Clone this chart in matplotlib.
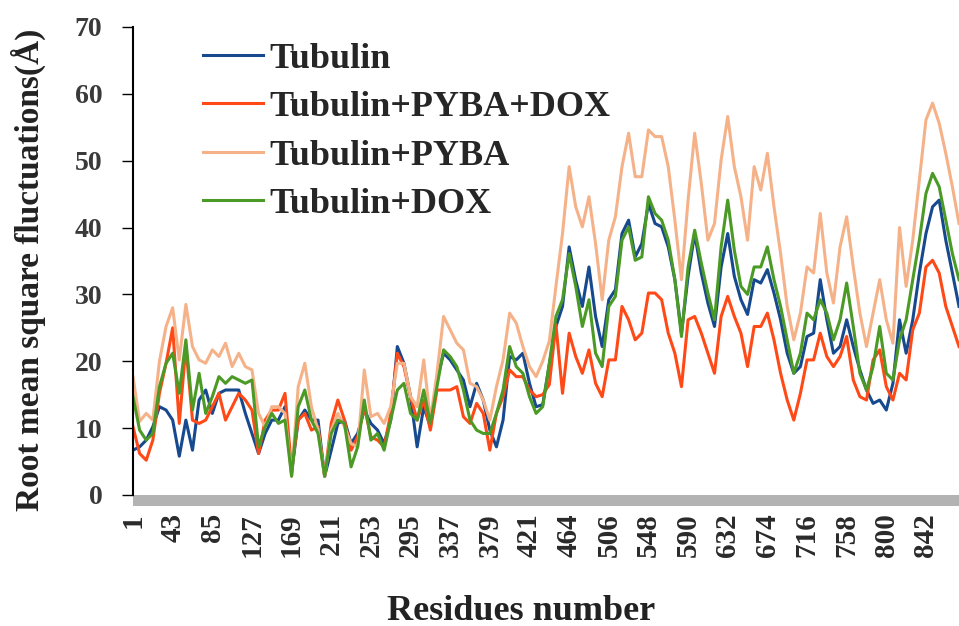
import numpy as np
import matplotlib
matplotlib.use("Agg")
import matplotlib.pyplot as plt
from matplotlib.patches import Rectangle

plt.rcParams['font.family'] = ['Liberation Serif', 'DejaVu Serif']
plt.rcParams['font.weight'] = 'bold'

# RMSF per residue, sampled every 7th residue along the chain
tubulin = [6.7, 7.2, 8.2, 10.2, 13.2, 12.7, 11.2, 5.8, 11.2, 6.7, 14.2, 15.7, 12.2, 15.2, 15.7, 15.7,
           15.7, 12.2, 9.2, 6.2, 9.2, 11.2, 11.2, 13.2, 3.3, 11.2, 12.7, 11.2, 11.2, 2.8, 6.7, 10.7,
           11.2, 7.7, 9.2, 12.7, 10.7, 9.7, 7.7, 11.2, 22.2, 19.7, 14.7, 7.2, 13.2, 10.2, 17.2, 21.2,
           20.2, 18.7, 17.2, 13.2, 16.7, 14.2, 9.7, 7.2, 11.2, 20.7, 20.2, 21.2, 16.7, 13.2, 13.5, 19.5,
           25.2, 28.2, 37.1, 32.1, 28.2, 34.1, 26.7, 22.2, 29.2, 30.7, 39.1, 41.1, 35.6, 37.6, 43.6,
           40.6, 40.1, 37.1, 32.2, 24.2, 32.7, 39.1, 33.2, 28.7, 25.2, 34.1, 39.1, 32.7, 29.2, 27.0,
           32.2, 31.7, 33.7, 30.2, 26.2, 21.2, 18.2, 19.2, 23.7, 24.2, 32.2, 26.2, 21.2, 22.2, 26.2,
           22.2, 18.7, 15.7, 13.7, 14.2, 12.7, 16.7, 26.2, 21.2, 26.2, 33.2, 39.1, 43.1, 44.1, 38.1,
           33.2, 28.2]
tub_pyba_dox = [10.2, 6.2, 5.2, 8.2, 15.2, 19.7, 25.0, 10.7, 22.2, 11.2, 10.7, 11.2, 13.2, 15.2, 11.2, 13.2,
                15.2, 14.2, 12.7, 6.2, 11.2, 12.7, 12.7, 15.2, 3.8, 11.2, 12.2, 9.7, 10.2, 2.8, 10.7, 14.2,
                11.2, 6.7, 8.7, 13.2, 8.7, 8.2, 7.2, 12.2, 21.2, 19.2, 14.7, 11.2, 14.2, 9.7, 15.7, 15.7,
                15.7, 16.2, 11.7, 10.7, 13.7, 12.2, 6.7, 12.2, 14.7, 18.7, 17.7, 17.7, 15.7, 14.7, 15.0, 16.5,
                25.5, 15.2, 24.2, 20.7, 18.2, 21.7, 16.7, 14.7, 20.2, 20.2, 28.2, 26.2, 23.2, 24.2, 30.2,
                30.2, 29.2, 24.2, 21.2, 16.2, 26.2, 26.7, 24.2, 21.2, 18.2, 26.7, 29.7, 26.7, 24.2, 19.2,
                25.2, 25.2, 27.2, 23.2, 18.2, 14.2, 11.2, 15.2, 20.2, 20.2, 24.2, 20.7, 19.2, 20.7, 23.7,
                17.2, 14.7, 14.2, 20.2, 21.7, 16.2, 14.2, 18.2, 17.2, 24.7, 27.2, 34.1, 35.1, 33.2, 28.2,
                25.2, 22.2]
tub_pyba = [17.7, 11.0, 12.2, 11.2, 20.0, 25.2, 28.0, 20.2, 28.5, 22.2, 20.2, 19.7, 21.7, 20.7, 22.7, 19.2,
            21.2, 19.2, 18.7, 12.2, 10.2, 13.2, 13.2, 12.2, 2.8, 16.2, 19.7, 13.2, 9.7, 2.8, 9.7, 12.2,
            10.2, 7.7, 7.2, 18.7, 11.7, 12.2, 10.7, 13.2, 19.7, 19.7, 14.7, 13.2, 20.2, 11.2, 18.2, 26.7,
            24.7, 22.7, 21.7, 16.7, 16.2, 14.2, 11.2, 16.2, 20.2, 27.2, 25.7, 22.2, 19.2, 17.7, 20.0, 23.0,
            31.2, 39.1, 49.1, 43.1, 40.1, 44.6, 37.6, 29.2, 38.1, 41.6, 49.1, 54.1, 47.6, 47.6, 54.6,
            53.6, 53.6, 49.1, 41.1, 32.2, 44.1, 54.1, 46.6, 38.1, 40.6, 50.1, 56.6, 49.1, 44.6, 38.1,
            49.1, 45.6, 51.1, 43.1, 36.1, 28.2, 23.2, 27.2, 34.1, 33.2, 42.1, 33.2, 28.7, 37.1, 41.6,
            34.1, 27.2, 22.2, 27.2, 32.2, 26.2, 22.7, 40.0, 31.2, 38.1, 47.1, 56.1, 58.6, 55.6, 51.1,
            46.1, 40.6]
tub_dox = [14.7, 9.7, 8.2, 9.2, 16.2, 19.7, 21.2, 15.2, 23.2, 12.7, 18.2, 12.2, 14.7, 17.7, 16.7, 17.7,
           17.2, 16.7, 17.2, 7.2, 10.2, 12.2, 10.7, 11.2, 2.8, 13.2, 15.7, 11.2, 9.2, 2.8, 9.2, 11.2,
           10.7, 4.2, 7.2, 14.2, 8.2, 9.2, 6.7, 11.2, 15.7, 16.7, 12.2, 11.2, 15.7, 10.7, 16.2, 21.7,
           20.7, 19.2, 15.7, 11.2, 9.7, 9.2, 9.2, 12.2, 15.7, 22.2, 19.2, 18.2, 14.7, 12.2, 13.2, 19.7,
           26.7, 29.2, 36.1, 31.2, 25.2, 29.2, 21.2, 19.2, 28.2, 29.7, 38.1, 40.1, 35.1, 35.6, 44.6,
           42.1, 41.1, 38.1, 32.2, 23.7, 34.1, 39.6, 34.7, 30.2, 26.2, 37.1, 44.1, 36.6, 31.2, 30.0,
           34.1, 34.1, 37.1, 32.2, 28.2, 23.2, 18.2, 21.2, 27.2, 26.2, 29.2, 27.2, 23.2, 26.2, 31.7,
           25.2, 18.2, 15.7, 19.2, 25.2, 18.2, 17.2, 23.2, 26.2, 32.2, 38.1, 45.1, 48.1, 46.1, 41.1,
           36.1, 32.2]

# residue labels shown on the category axis (one every 42 rows)
tick_labels = ['1', '43', '85', '127', '169', '211', '253', '295', '337', '379', '421',
               '464', '506', '548', '590', '632', '674', '716', '758', '800', '842']

step = 7
pos = np.arange(len(tubulin)) * step

fig = plt.figure(figsize=(9.59, 6.26), dpi=100)
ax = fig.add_axes([0.1387, 0.2093, 0.8613, 0.7477])

ax.plot(pos, tubulin, color='#17498f', lw=2.2, label='Tubulin')
ax.plot(pos, tub_pyba_dox, color='#ff4a17', lw=2.2, label='Tubulin+PYBA+DOX')
ax.plot(pos, tub_pyba, color='#f5b289', lw=2.2, label='Tubulin+PYBA')
ax.plot(pos, tub_dox, color='#4b9a26', lw=2.2, label='Tubulin+DOX')

ax.set_xlim(0, 875)
ax.set_ylim(0, 70)
ax.set_yticks(range(0, 71, 10))
ax.set_xticks(np.arange(len(tick_labels)) * 42)
ax.set_xticklabels(tick_labels, rotation=90)

for s in ['top', 'right', 'bottom']:
    ax.spines[s].set_visible(False)
ax.spines['left'].set_linewidth(1.5)

ax.tick_params(axis='y', direction='out', length=8, width=1, pad=14,
               labelsize=20, labelcolor='#3a3a3a')
ax.tick_params(axis='x', length=0, pad=13, labelsize=21, labelcolor='#2a2a2a')

# grey floor under the zero line
ax.add_patch(Rectangle((0, -0.0235), 1.0, 0.0235, transform=ax.transAxes,
                       clip_on=False, color='#b3b3b3', lw=0))

ax.set_ylabel('Root mean square fluctuations(Å)', fontsize=24, fontweight='bold',
              color='#222222')
ax.yaxis.label.set_va('center')
ax.yaxis.set_label_coords(-0.127, 0.48)
ax.set_xlabel('Residues number', fontsize=26, fontweight='bold', color='#222222')
ax.xaxis.label.set_va('center')
ax.xaxis.set_label_coords(0.47, -0.248)

leg = ax.legend(loc='upper left', bbox_to_anchor=(0.085, 0.967), frameon=False,
                fontsize=26, handlelength=1.65, handletextpad=0.17, labelspacing=0.42,
                borderpad=0, borderaxespad=0)
for t in leg.get_texts():
    t.set_color('#262626')

fig.savefig('out.png', dpi=100)
